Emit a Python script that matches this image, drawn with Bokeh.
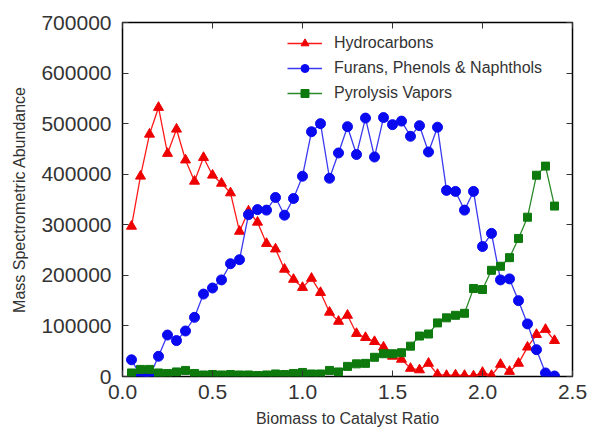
from bokeh.plotting import figure
from bokeh.models import (LinearAxis, FixedTicker, NumeralTickFormatter, Legend, LegendItem, Range1d,
                          CustomJSTickFormatter)
from bokeh.embed import file_html
from bokeh.resources import INLINE

ratio = [0.05, 0.10, 0.15, 0.20, 0.25, 0.30, 0.35, 0.40, 0.45, 0.50,
         0.55, 0.60, 0.65, 0.70, 0.75, 0.80, 0.85, 0.90, 0.95, 1.00,
         1.05, 1.10, 1.15, 1.20, 1.25, 1.30, 1.35, 1.40, 1.45, 1.50,
         1.55, 1.60, 1.65, 1.70, 1.75, 1.80, 1.85, 1.90, 1.95, 2.00,
         2.05, 2.10, 2.15, 2.20, 2.25, 2.30, 2.35, 2.40]

hydrocarbons = [297000, 396000, 479000, 532000, 441000, 489000, 428000, 386000, 433000, 398000,
                382000, 363000, 287000, 327000, 305000, 263000, 252000, 212000, 192000, 176000,
                194000, 166000, 127000, 109000, 121000, 85000, 77000, 69000, 58000, 40000,
                34000, 16000, 13000, 26000, 4000, 2000, 3000, 2000, 1000, 8000,
                2000, 24000, 10000, 26000, 58000, 83000, 93000, 71000]

furans = [33000, 2000, 0, 40000, 82000, 71000, 90000, 117000, 163000, 175000,
          191000, 223000, 231000, 320000, 330000, 329000, 354000, 319000, 352000, 396000,
          484000, 500000, 392000, 442000, 494000, 439000, 511000, 434000, 512000, 498000,
          505000, 475000, 496000, 444000, 493000, 368000, 366000, 329000, 366000, 257000,
          283000, 191000, 193000, 150000, 104000, 53000, 7000, 1000]

pyrolysis = [7000, 14000, 14000, 7000, 6000, 9000, 12000, 6000, 3000, 4000,
             3000, 4000, 3000, 3000, 2000, 3000, 5000, 4000, 6000, 8000,
             5000, 5000, 12000, 9000, 20000, 25000, 26000, 38000, 45000, 45000,
             47000, 60000, 80000, 84000, 106000, 116000, 121000, 125000, 174000, 172000,
             210000, 218000, 235000, 273000, 315000, 398000, 416000, 337000]

series_names = ["Hydrocarbons", "Furans, Phenols & Naphthols", "Pyrolysis Vapors"]
x_ticks = [0.0, 0.5, 1.0, 1.5, 2.0, 2.5]
y_ticks = [0, 100000, 200000, 300000, 400000, 500000, 600000, 700000]

FONT = "Liberation Sans"
TXT = "#333333"

p = figure(width=589, height=435, output_backend="svg", toolbar_location=None,
           x_range=Range1d(0, 2.5), y_range=Range1d(0, 700000),
           min_border_left=122, min_border_right=17, min_border_top=22, min_border_bottom=59)
p.background_fill_color = "white"
p.border_fill_color = "white"
p.xgrid.visible = False
p.ygrid.visible = False
p.outline_line_color = "black"
p.outline_line_width = 1.5

p.xaxis.ticker = FixedTicker(ticks=x_ticks)
p.xaxis.formatter = NumeralTickFormatter(format="0.0")
p.yaxis.ticker = FixedTicker(ticks=y_ticks)
p.yaxis.formatter = NumeralTickFormatter(format="0")

for ax in [p.xaxis[0], p.yaxis[0]]:
    ax.major_tick_in = 6
    ax.major_tick_out = 0
    ax.minor_tick_line_color = None
    ax.axis_line_color = None
    ax.major_tick_line_color = "#333333"
    ax.major_label_text_font = FONT
    ax.major_label_text_font_size = "21px"
    ax.major_label_text_color = TXT
    ax.axis_label_text_font = FONT
    ax.axis_label_text_font_size = "16px"
    ax.axis_label_text_font_style = "normal"
    ax.axis_label_text_color = TXT

p.xaxis.axis_label = "Biomass to Catalyst Ratio"
p.yaxis.axis_label = "Mass Spectrometric Abundance"
p.xaxis.major_label_standoff = 8
p.yaxis.major_label_standoff = 11
p.xaxis.axis_label_standoff = 8
p.yaxis.axis_label_standoff = 10

blank = CustomJSTickFormatter(code="return ''")
top = LinearAxis(ticker=FixedTicker(ticks=x_ticks), formatter=blank, major_tick_in=6, major_tick_out=0,
                 minor_tick_line_color=None, axis_line_color=None, major_label_standoff=0,
                 major_tick_line_color="#333333")
right = LinearAxis(ticker=FixedTicker(ticks=y_ticks), formatter=blank, major_tick_in=6, major_tick_out=0,
                   minor_tick_line_color=None, axis_line_color=None, major_label_standoff=0,
                   major_tick_line_color="#333333")
p.add_layout(top, "above")
p.add_layout(right, "right")

styles = [
    ("#ff1a1a", "#ee0000", "triangle", 10, hydrocarbons),
    ("#3a3af0", "#0a0af0", "circle", 10, furans),
    ("#2a8a2a", "#0e7a0e", "square", 8, pyrolysis),
]

items = []
for name, (lc, mc, marker, size, ys) in zip(series_names, styles):
    ln = p.line(ratio, ys, line_color=lc, line_width=1.3)
    sc = p.scatter(ratio, ys, marker=marker, size=size, fill_color=mc, line_color=mc)
    items.append(LegendItem(label=name, renderers=[ln, sc]))

legend = Legend(items=items, location=(165, 273), margin=0, padding=0,
                glyph_width=35, glyph_height=20, label_height=20, spacing=5,
                label_standoff=12, label_text_font=FONT, label_text_font_size="16px",
                label_text_color=TXT, background_fill_alpha=0, border_line_color=None)
p.add_layout(legend, "center")

open("out.html", "w").write(file_html(p, INLINE))
